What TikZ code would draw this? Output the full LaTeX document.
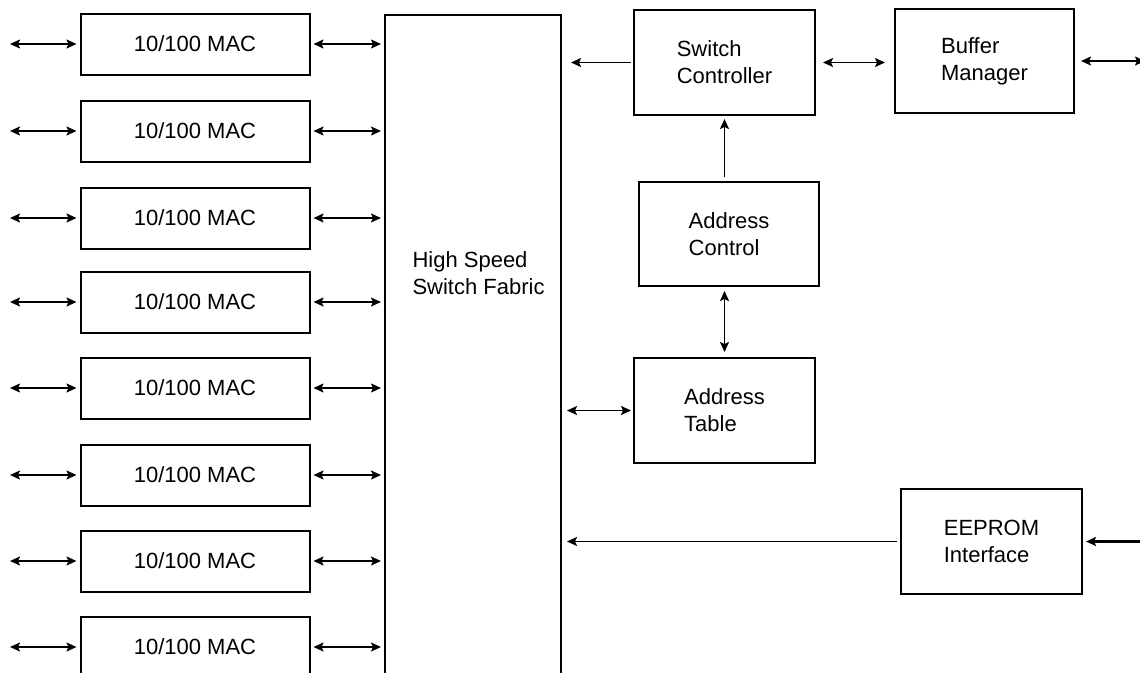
\documentclass[tikz,border=0pt]{standalone}
\usepackage{fontspec}
\setmainfont{Liberation Sans}
\usetikzlibrary{arrows.meta,positioning,calc}

\tikzset{
  blk/.style={draw,line width=2pt,inner sep=0pt,align=left},
  macbox/.style={blk,minimum width=229pt,minimum height=61pt},
  unitbox/.style={blk,minimum width=181pt,minimum height=105pt},
  biarrow/.style={line width=1.7pt,{Stealth[length=10pt,width=9pt,inset=2pt]}-{Stealth[length=10pt,width=9pt,inset=2pt]}},
  onearrow/.style={line width=1.7pt,-{Stealth[length=10pt,width=9pt,inset=2pt]}}
}

\begin{document}
\begin{tikzpicture}[x=1pt,y=-1pt,every node/.style={font=\fontsize{22}{27}\selectfont}]
  \useasboundingbox (0,0) rectangle (1140,672);
  % switch fabric, open at the bottom
  \node[blk,minimum width=176pt,minimum height=690pt,anchor=north west] (fabric) at (384,14) {};
  \node[align=left,anchor=west] (fabriclbl) at (409,273) {High Speed\\Switch Fabric};
  % eight MAC ports
  \foreach \i/\y in {1/44,2/131,3/218,4/302,5/388,6/475,7/561,8/647} {
    \node[macbox] (mac\i) at (195,\y) {10/100 MAC};
    \coordinate (port\i) at (10,\y);
    \draw[biarrow,shorten >=3pt] (port\i) -- (mac\i.west);
    \draw[biarrow,shorten <=3pt,shorten >=3pt] (mac\i.east) -- (mac\i.east -| fabric.west);
  }
  % control blocks
  \node[unitbox] (sc) at (724.5,62.5) {Switch\\Controller};
  \node[unitbox,minimum width=179pt,minimum height=104pt] (bm) at (984.5,61) {Buffer\\Manager};
  \node[unitbox,minimum width=180pt,minimum height=104pt] (ac) at (729,234) {Address\\Control};
  \node[unitbox] (at) at (724.5,410.5) {Address\\Table};
  \node[unitbox] (ee) at (991.5,541.5) {EEPROM\\Interface};
  \coordinate (bmout) at (1145,61);
  \coordinate (eein) at (1141,541.5);
  % connectors
  \draw[onearrow,shorten <=2pt,shorten >=9pt] (sc.west) -- (sc.west -| fabric.east);
  \draw[biarrow,shorten <=7pt,shorten >=9pt] (sc.east) -- (sc.east -| bm.west);
  \draw[biarrow,shorten <=6pt] (bm.east) -- (bmout);
  \draw[onearrow,shorten <=4pt,shorten >=3pt] (ac.north -| sc.south) -- (sc.south);
  \draw[biarrow,shorten <=4pt,shorten >=5pt] (ac.south -| at.north) -- (at.north);
  \draw[biarrow,shorten <=5pt,shorten >=2pt] (at.west -| fabric.east) -- (at.west);
  \draw[onearrow,shorten <=3pt,shorten >=5pt] (ee.west) -- (ee.west -| fabric.east);
  \draw[onearrow,line width=2.4pt,shorten >=3pt] (eein) -- (ee.east);
\end{tikzpicture}
\end{document}
